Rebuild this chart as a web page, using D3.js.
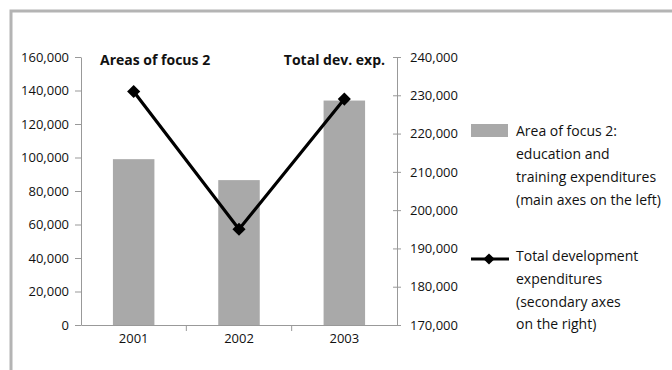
<!DOCTYPE html>
<html><head><meta charset="utf-8">
<script src="https://cdn.jsdelivr.net/npm/d3@7"></script>
<style>body{margin:0;background:#fff}svg{display:block}text{font-family:"Open Sans",sans-serif;fill:#111}</style>
</head><body><svg id="c" width="672" height="370"></svg>
<script>
const years = ["2001", "2002", "2003"];
const focusValues = [99000, 86500, 134000];
const totalValues = [231000, 195000, 229000];
const leftTicks = [0, 20000, 40000, 60000, 80000, 100000, 120000, 140000, 160000];
const rightTicks = [170000, 180000, 190000, 200000, 210000, 220000, 230000, 240000];
const legendFocus = ["Area of focus 2:", "education and", "training expenditures", "(main axes on the left)"];
const legendTotal = ["Total development", "expenditures", "(secondary axes", "on the right)"];
const titleLeft = "Areas of focus 2";
const titleRight = "Total dev. exp.";

const svg = d3.select("#c");
// frame
svg.append("path").attr("d", "M11,370V11H672").attr("fill", "none").attr("stroke", "#b4b4b4").attr("stroke-width", 3);

const x0 = 81, x1 = 397, yTop = 57, yBot = 325;
const x = d3.scaleBand().domain(years).range([x0, x1]).paddingInner(0).paddingOuter(0);
const yL = d3.scaleLinear().domain([0, 160000]).range([yBot, yTop]);
const yR = d3.scaleLinear().domain([170000, 240000]).range([yBot, yTop]);
const fmt = d3.format(",");

// bars
const bw = 41.5;
svg.selectAll("rect.bar").data(years).join("rect").attr("class", "bar")
  .attr("x", d => x(d) + x.bandwidth() / 2 - bw / 2)
  .attr("width", bw)
  .attr("y", (d, i) => yL(focusValues[i]))
  .attr("height", (d, i) => yBot - yL(focusValues[i]))
  .attr("fill", "#a9a9a9");

// left axis
const gL = svg.append("g").attr("transform", `translate(${x0},0)`)
  .call(d3.axisLeft(yL).tickValues(leftTicks).tickFormat(fmt).tickSize(6).tickPadding(6).tickSizeOuter(0));
// right axis
const gR = svg.append("g").attr("transform", `translate(${x1},0)`)
  .call(d3.axisRight(yR).tickValues(rightTicks).tickFormat(fmt).tickSize(4).tickPadding(9).tickSizeOuter(0));
gR.selectAll(".tick line").attr("x1", -4);
// bottom axis
const gB = svg.append("g").attr("transform", `translate(0,${yBot})`)
  .call(d3.axisBottom(x).tickSize(0).tickPadding(9).tickSizeOuter(0));
// category separators
svg.selectAll("line.sep").data(years.slice(1)).join("line").attr("class", "sep")
  .attr("x1", d => x(d)).attr("x2", d => x(d)).attr("y1", yBot).attr("y2", yBot + 6)
  .attr("stroke", "#999");

[gL, gR, gB].forEach(g => {
  g.select(".domain").attr("stroke", "#999");
  g.selectAll(".tick line").attr("stroke", "#999");
  g.selectAll("text").attr("font-size", 13).attr("font-family", "Open Sans").attr("fill", "#111");
});

// line
const line = d3.line().x((d, i) => x(years[i]) + x.bandwidth() / 2).y(d => yR(d));
svg.append("path").datum(totalValues).attr("d", line).attr("fill", "none").attr("stroke", "#000").attr("stroke-width", 3.2);
const diamond = d3.symbol().type(d3.symbolDiamond2).size(110);
svg.selectAll("path.mk").data(totalValues).join("path").attr("class", "mk")
  .attr("d", diamond)
  .attr("transform", (d, i) => `translate(${x(years[i]) + x.bandwidth() / 2},${yR(d)})`)
  .attr("fill", "#000");

// titles
svg.append("text").attr("x", 100).attr("y", 65).attr("font-size", 14).attr("font-weight", "bold").text(titleLeft);
svg.append("text").attr("x", 385).attr("y", 65).attr("text-anchor", "end").attr("font-size", 14).attr("font-weight", "bold").text(titleRight);

// legend
svg.append("rect").attr("x", 471).attr("y", 124).attr("width", 37).attr("height", 13).attr("fill", "#a9a9a9");
svg.selectAll("text.lg1").data(legendFocus).join("text").attr("class", "lg1")
  .attr("x", 516).attr("y", (d, i) => 131.5 + i * 22.8).attr("dy", "0.35em").attr("font-size", 14).text(d => d);
svg.append("line").attr("x1", 471).attr("x2", 509).attr("y1", 259).attr("y2", 259).attr("stroke", "#000").attr("stroke-width", 3.2);
svg.append("path").attr("d", d3.symbol().type(d3.symbolDiamond2).size(80)).attr("transform", "translate(489,259)").attr("fill", "#000");
svg.selectAll("text.lg2").data(legendTotal).join("text").attr("class", "lg2")
  .attr("x", 516).attr("y", (d, i) => 256.5 + i * 22.6).attr("dy", "0.35em").attr("font-size", 14).text(d => d);
</script></body></html>
